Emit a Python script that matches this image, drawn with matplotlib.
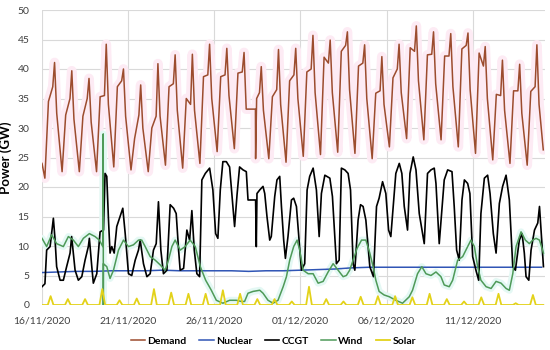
import numpy as np
import matplotlib
matplotlib.use('Agg')
import matplotlib.pyplot as plt
import matplotlib.dates as mdates
from datetime import datetime, timedelta

plt.rcParams['font.family'] = ['Lato', 'DejaVu Sans']

start = datetime(2020, 11, 16)
nan = np.nan

# ---------------- Demand (GW): key values per day ----------------
dem_trough = [21.5, 22.6, 22.6, 22.6, 23.4, 22.9, 22.6, 23.7, 23.2, 24.0, 26.0, 26.5, nan, 24.8,
              24.2, 25.2, 25.5, 25.9, 25.7, 24.8, 26.8, 28.2, 28.0, 28.0, 26.8, 25.7, 24.6, 24.0, 23.7]
dem_morning = [34.5, 32.2, 32.0, 35.3, 37.0, 28.2, 30.0, 37.0, 35.0, 38.7, 38.7, 39.3, nan, 35.3,
               38.0, 39.5, 42.0, 43.0, 40.5, 35.9, 38.5, 43.6, 42.4, 42.2, 43.4, 42.7, 35.7, 36.3, 36.2]
dem_afternoon = [37.0, 35.0, 35.0, 35.5, 38.0, 32.2, 32.0, 37.5, 34.0, 39.0, 39.0, 39.5, 36.0, 36.5,
                 39.0, 40.0, 41.0, 44.0, 41.0, 36.3, 40.0, 43.0, 42.5, 42.2, 44.0, 40.5, 35.5, 36.3, 37.0]
dem_peak = [41.1, 39.7, 38.4, 44.2, 40.0, 37.3, 40.9, 42.4, 42.5, 44.2, 43.5, 42.8, 40.4, 43.3,
            43.5, 45.7, 44.9, 46.3, 44.1, 42.1, 44.2, 47.3, 46.3, 46.0, 46.1, 43.8, 41.5, 40.8, 44.1]
dem_evening = [32.5, 31.5, 31.0, 34.0, 32.0, 30.0, 32.0, 33.0, 33.0, 35.0, 35.5, 33.2, 33.0, 34.0,
               35.0, 36.0, 36.0, 36.5, 35.0, 34.0, 36.0, 38.0, 37.5, 37.0, 36.5, 35.0, 33.0, 32.5, 34.0]
dem_hours = [4.0, 9.0, 15.0, 17.5, 20.5]
# extra readings (start, data gap on 28/11, end) as (day offset, GW)
dem_extra_day = [0.0, 12.39, 12.40, 12.46, 29.1]
dem_extra_val = [24.0, 33.2, 24.8, 35.0, 26.3]

# ---------------- Nuclear (GW), one reading per day ----------------
nuc_val = [5.5, 5.6, 5.7, 5.7, 5.8, 5.8, 5.8, 5.9, 5.8, 5.8, 5.8, 5.8, 5.7, 5.8, 5.8,
           5.9, 6.0, 6.1, 6.3, 6.4, 6.4, 6.4, 6.4, 6.4, 6.4, 6.4, 6.4, 6.4, 6.4, 6.4]

# ---------------- CCGT (GW): (day offset, value) ----------------
ccgt_day = [0.0, 0.17, 0.27, 0.47, 0.66, 0.76, 0.85, 1.05, 1.24, 1.43, 1.63, 1.72, 1.82, 1.92,
            2.11, 2.31, 2.50, 2.69, 2.75, 2.89, 2.98, 3.18, 3.37, 3.57, 3.66, 3.76, 3.86, 3.95,
            4.05, 4.19, 4.34, 4.53, 4.69, 4.83, 5.02, 5.21, 5.41, 5.60, 5.70, 5.89, 6.09, 6.28,
            6.47, 6.63, 6.76, 6.90, 7.05, 7.25, 7.44, 7.64, 7.79, 7.93, 8.02, 8.22, 8.41, 8.57,
            8.70, 8.84, 8.99, 9.15, 9.28, 9.48,
            9.73, 9.92, 10.08, 10.21, 10.35, 10.50, 10.70, 10.89, 11.05, 11.18, 11.32, 11.47,
            11.67, 11.86, 11.96, 12.40, 12.44, 12.48, 12.64, 12.83, 12.93, 13.06, 13.22, 13.31,
            13.51, 13.64, 13.80, 13.90, 14.03, 14.13, 14.28, 14.48, 14.61, 14.77, 14.92, 15.06,
            15.25, 15.39, 15.54, 15.74, 15.93, 16.09, 16.22, 16.42, 16.71, 16.86, 17.09, 17.25,
            17.38, 17.58, 17.77, 17.91, 18.06, 18.16, 18.35, 18.49, 18.64, 18.80, 19.03, 19.24,
            19.42, 19.57, 19.77, 19.96, 20.12, 20.25, 20.39, 20.54, 20.74, 20.89, 21.03, 21.22,
            21.36, 21.55, 21.71, 21.90, 22.19, 22.38, 22.58, 22.77, 22.87, 23.06, 23.35, 23.55,
            23.80, 23.93, 24.07, 24.22, 24.38, 24.52, 24.71, 24.84, 25.00, 25.19, 25.35, 25.48,
            25.68, 25.87, 26.01, 26.20, 26.36, 26.55, 26.74, 26.94, 27.13, 27.33, 27.48, 27.71,
            27.87, 28.00, 28.10, 28.26, 28.39, 28.59, 28.78, 28.88, 28.97, 29.11]
ccgt_val = [3.1, 3.6, 9.3, 9.9, 14.7, 11.0, 6.5, 4.2, 4.2, 6.5, 8.8, 11.6, 8.8, 5.9,
            4.2, 4.8, 7.6, 9.9, 11.3, 6.5, 3.7, 5.3, 12.4, 12.7, 22.3, 21.8, 14.4, 8.8,
            9.9, 8.8, 13.3, 15.0, 16.4, 12.1, 5.3, 5.0, 7.6, 9.3, 11.0, 7.0, 4.8, 5.3,
            9.3, 10.4, 17.5, 9.3, 5.3, 5.9, 17.0, 16.4, 15.5, 9.3, 5.9, 6.2, 12.7, 11.0,
            16.0, 9.3, 5.3, 4.8, 21.2, 22.3,
            23.2, 19.5, 12.1, 11.3, 19.5, 24.3, 24.3, 23.4, 17.8, 13.3, 18.6, 23.4,
            22.9, 22.6, 17.8, 17.8, 9.9, 18.9, 19.5, 20.1, 18.9, 15.0, 11.0, 11.6,
            18.4, 21.2, 21.8, 16.7, 11.0, 7.9, 11.6, 17.8, 18.1, 16.7, 11.0, 5.9,
            7.0, 19.5, 21.8, 23.2, 19.5, 11.6, 18.9, 22.0, 21.5, 18.4, 7.0, 7.6,
            23.2, 22.9, 22.3, 19.5, 7.0, 5.9, 14.4, 17.0, 16.7, 14.4, 6.5, 4.8,
            16.7, 18.1, 20.9, 18.9, 12.7, 11.6, 16.7, 22.3, 24.0, 22.3, 16.7, 12.7,
            22.3, 25.1, 22.9, 15.5, 10.4, 22.3, 22.9, 23.2, 20.6, 10.4, 21.2, 22.9,
            22.6, 16.7, 9.3, 7.6, 17.8, 21.2, 20.6, 18.9, 8.2, 5.9, 4.2, 15.5,
            21.5, 22.0, 18.9, 12.1, 8.8, 17.2, 20.1, 22.0, 17.8, 6.5, 5.9, 11.0,
            12.1, 8.8, 4.8, 4.2, 9.3, 12.7, 13.9, 16.7, 12.7, 6.5]

# ---------------- Wind (GW): (day offset, value) ----------------
wind_day = [0.0, 0.27, 0.56, 0.85, 1.24, 1.53, 1.82, 2.11, 2.40, 2.75, 3.08, 3.33, 3.53, 3.555,
            3.56, 3.565, 3.76, 3.95, 4.15, 4.44, 4.73, 5.02, 5.31, 5.60, 5.79, 5.99, 6.28, 6.57, 6.86,
            7.15, 7.34, 7.54, 7.73, 8.02, 8.31, 8.60, 8.90, 9.19, 9.50, 9.83, 10.12, 10.50,
            10.89, 11.28, 11.57, 11.76, 11.96, 12.25, 12.64, 12.83, 13.12, 13.41, 13.70, 14.00,
            14.19, 14.38, 14.61, 14.81, 14.96, 15.16, 15.45, 15.74, 16.03, 16.32, 16.61, 16.90,
            17.19, 17.48, 17.67, 17.86, 18.06, 18.29, 18.55, 18.80, 19.03, 19.22, 19.38, 19.57,
            19.86, 20.16, 20.54, 20.93, 21.32, 21.51, 21.80, 22.05, 22.29, 22.58, 22.87, 23.16,
            23.35, 23.64, 23.84, 24.13, 24.42, 24.71, 24.90, 25.10, 25.29, 25.48, 25.78, 26.07,
            26.36, 26.65, 26.94, 27.13, 27.33, 27.52, 27.81, 28.06, 28.29, 28.49, 28.68, 28.88,
            29.11]
wind_val = [11.3, 9.9, 11.9, 10.4, 9.9, 11.6, 11.0, 9.9, 11.3, 12.1, 11.6, 11.0, 9.9, 29.0,
            0.0, 7.0, 6.5, 4.5, 5.9, 9.3, 11.0, 9.9, 10.2, 11.0, 11.0, 9.9, 8.2, 7.6, 6.8,
            5.9, 7.6, 9.9, 11.0, 9.3, 9.9, 11.0, 9.9, 6.5, 4.2, 2.5, 0.8, 0.3,
            0.8, 0.8, 0.6, 0.6, 2.0, 2.3, 2.5, 2.0, 0.8, 0.3, 0.8, 3.1,
            4.8, 7.6, 9.9, 11.0, 9.3, 5.9, 5.3, 5.3, 3.7, 4.0, 5.6, 7.0,
            5.9, 4.8, 5.0, 5.9, 7.6, 9.6, 11.0, 11.0, 8.8, 6.5, 4.2, 2.3,
            1.7, 1.4, 0.8, 0.3, 1.4, 2.5, 5.3, 6.5, 5.3, 5.0, 5.6, 4.8,
            3.4, 3.1, 4.2, 7.6, 8.2, 9.9, 11.0, 9.9, 6.5, 4.2, 3.1, 2.8,
            4.0, 3.7, 2.8, 2.5, 5.3, 9.9, 12.4, 11.0, 10.4, 11.0, 11.3, 11.0,
            8.8]

# ---------------- Solar (GW): midday peak per day ----------------
solar_peak = [1.5, 1.0, 1.0, 2.7, 0.8, 1.1, 2.7, 2.1, 1.9, 1.9, 2.5, 1.9, 1.0, 1.0, 0.6,
              3.1, 1.0, 0.6, 1.4, 1.5, 1.5, 1.3, 1.9, 1.0, 0.6, 1.3, 1.9, 0.3, 1.7]
solar_hours = [8.0, 12.0, 16.0]

# ---------------- labels ----------------
series_names = ['Demand', 'Nuclear', 'CCGT', 'Wind', 'Solar']
series_colors = ['#9c4c2e', '#3055b5', '#000000', '#4e9a58', '#e3d21a']
y_label = 'Power (GW)'
tick_days = [0, 5, 10, 15, 20, 25]


def to_dates(days):
    return [start + timedelta(days=float(d)) for d in days]


# assemble demand
d_days, d_vals = [], []
for k in range(len(dem_peak)):
    for h, arr in zip(dem_hours, [dem_trough, dem_morning, dem_afternoon, dem_peak, dem_evening]):
        if not np.isnan(arr[k]):
            d_days.append(k + h / 24.0)
            d_vals.append(arr[k])
d_days += dem_extra_day
d_vals += dem_extra_val
order = np.argsort(d_days)
d_days = np.array(d_days)[order]
d_vals = np.array(d_vals)[order]

# solar
s_days, s_vals = [0.0], [0.0]
for k, p in enumerate(solar_peak):
    for h, v in zip(solar_hours, [0.0, p, 0.0]):
        s_days.append(k + h / 24.0)
        s_vals.append(v)
s_days.append(29.1)
s_vals.append(0.0)

nuc_days = [min(k, 29.1) for k in range(len(nuc_val))]

fig = plt.figure(figsize=(5.5, 3.5), dpi=100)
ax = fig.add_axes([42 / 550, 1 - 305 / 350, 503 / 550, 295 / 350])

# soft halos (as seen around the coloured lines in the reference)
ax.plot(to_dates(d_days), d_vals, color='#fdebf4', lw=7, zorder=1, solid_capstyle='round')
ax.plot(to_dates(wind_day), wind_val, color='#e4f8f4', lw=5, zorder=1, solid_capstyle='round')

ax.plot(to_dates(d_days), d_vals, color=series_colors[0], lw=1.1, zorder=3, label=series_names[0])
ax.plot(to_dates(nuc_days), nuc_val, color=series_colors[1], lw=1.1, zorder=3, label=series_names[1])
ax.plot(to_dates(ccgt_day), ccgt_val, color=series_colors[2], lw=1.2, zorder=3, label=series_names[2])
ax.plot(to_dates(wind_day), wind_val, color=series_colors[3], lw=1.1, zorder=3, label=series_names[3])
ax.plot(to_dates(s_days), s_vals, color=series_colors[4], lw=1.3, zorder=3, label=series_names[4])

ax.set_ylim(0, 50)
ax.set_yticks(np.arange(0, 51, 5))
ax.set_xlim(start, start + timedelta(days=29.2))
ax.set_xticks(to_dates(tick_days))
ax.xaxis.set_major_formatter(mdates.DateFormatter('%d/%m/%Y'))
ax.grid(True, color='#d9d9d9', lw=0.8, zorder=0)
ax.set_axisbelow(True)
for s in ax.spines.values():
    s.set_visible(False)
ax.tick_params(axis='both', length=0, labelsize=7.5, labelcolor='#404040')
ax.tick_params(axis='x', pad=8)
ax.tick_params(axis='y', pad=9)
ax.set_ylabel(y_label, fontsize=9.5, fontweight='bold', labelpad=4)

handles, labels = ax.get_legend_handles_labels()
fig.legend(handles, labels, loc='center', bbox_to_anchor=(0.497, 0.026), ncol=5, frameon=False,
           handlelength=1.4, handletextpad=0.2, columnspacing=1.2,
           prop={'weight': 'bold', 'size': 7.5})

fig.savefig('out.png', dpi=100)
